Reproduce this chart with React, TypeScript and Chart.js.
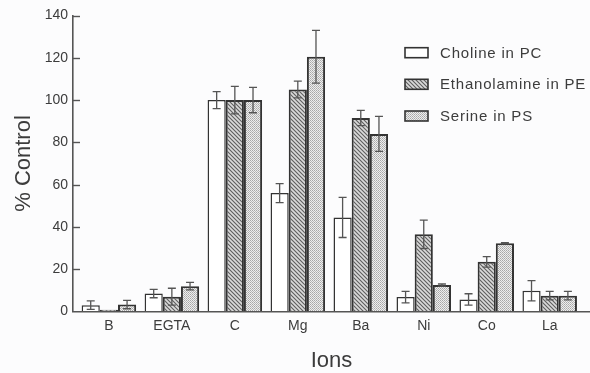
import React, { useEffect, useRef } from "react";
import { Chart, registerables } from "chart.js";

Chart.register(...registerables);

const categories = ["B", "EGTA", "C", "Mg", "Ba", "Ni", "Co", "La"];
const seriesNames = ["Choline in PC", "Ethanolamine in PE", "Serine in PS"];
const choline = [3, 8.5, 100, 56, 44.5, 6.8, 5.7, 9.8];
const cholineErr = [2, 2, 4, 4.5, 9.5, 2.7, 2.7, 4.8];
const ethanolamine = [0.8, 7, 100, 105, 91.5, 36.5, 23.5, 7.5];
const ethanolamineErr = [0, 4, 6.5, 4, 3.6, 6.7, 2.5, 2];
const serine = [3.3, 12, 100, 120.5, 84, 12.5, 32.3, 7.5];
const serineErr = [2, 1.8, 6, 12.5, 8.3, 0.5, 0.3, 2];
const yTicks = [0, 20, 40, 60, 80, 100, 120, 140];

const FONT = "'Liberation Sans', Arial, sans-serif";
const INK = "#3c3c3c";

function makeHatch(): CanvasPattern | string {
  const c = document.createElement("canvas");
  c.width = 4;
  c.height = 4;
  const g = c.getContext("2d");
  if (!g) return "#bbb";
  g.fillStyle = "#dadada";
  g.fillRect(0, 0, 4, 4);
  g.strokeStyle = "#5e5e5e";
  g.lineWidth = 1.1;
  g.beginPath();
  g.moveTo(-1, -1);
  g.lineTo(5, 5);
  g.moveTo(-1, 3);
  g.lineTo(1, 5);
  g.moveTo(3, -1);
  g.lineTo(5, 1);
  g.stroke();
  return g.createPattern(c, "repeat") || "#bbb";
}

function makeStipple(): CanvasPattern | string {
  const c = document.createElement("canvas");
  c.width = 2;
  c.height = 2;
  const g = c.getContext("2d");
  if (!g) return "#ccc";
  g.fillStyle = "#eeeeee";
  g.fillRect(0, 0, 2, 2);
  g.fillStyle = "#a8a8a8";
  g.fillRect(0, 0, 1, 1);
  g.fillStyle = "#bababa";
  g.fillRect(1, 1, 1, 1);
  return g.createPattern(c, "repeat") || "#ccc";
}

export default function App() {
  const ref = useRef<HTMLCanvasElement | null>(null);

  useEffect(() => {
    const canvas = ref.current;
    if (!canvas) return;
    const hatch = makeHatch();
    const stipple = makeStipple();
    const values = [choline, ethanolamine, serine];
    const errors = [cholineErr, ethanolamineErr, serineErr];
    const fills: any[] = ["#ffffff", hatch, stipple];
    const borders = [1.5, 2, 2];

    const bgPlugin = {
      id: "bg",
      beforeDraw(chart: any) {
        const ctx = chart.ctx;
        ctx.save();
        ctx.fillStyle = "#fcfcfd";
        ctx.fillRect(0, 0, chart.width, chart.height);
        ctx.restore();
      },
    };

    const errPlugin = {
      id: "errbars",
      afterDatasetsDraw(chart: any) {
        const ctx = chart.ctx;
        const ys = chart.scales.y;
        ctx.save();
        ctx.strokeStyle = "#555";
        ctx.lineWidth = 1.3;
        chart.data.datasets.forEach((ds: any, di: number) => {
          const meta = chart.getDatasetMeta(di);
          meta.data.forEach((bar: any, i: number) => {
            const e = errors[di][i];
            if (!e) return;
            const v = values[di][i];
            const top = ys.getPixelForValue(v + e);
            const bot = ys.getPixelForValue(Math.max(0, v - e));
            const x = bar.x;
            ctx.beginPath();
            ctx.moveTo(x, top);
            ctx.lineTo(x, bot);
            ctx.moveTo(x - 4, top);
            ctx.lineTo(x + 4, top);
            ctx.moveTo(x - 4, bot);
            ctx.lineTo(x + 4, bot);
            ctx.stroke();
          });
        });
        ctx.restore();
      },
    };

    const tickPlugin = {
      id: "inticks",
      afterDraw(chart: any) {
        const ctx = chart.ctx;
        const ys = chart.scales.y;
        const left = chart.chartArea.left;
        ctx.save();
        ctx.strokeStyle = "#555";
        ctx.lineWidth = 1.4;
        yTicks.forEach((t) => {
          if (t === 0) return;
          const y = Math.round(ys.getPixelForValue(t)) + 0.5;
          ctx.beginPath();
          ctx.moveTo(left, y);
          ctx.lineTo(left + 7, y);
          ctx.stroke();
        });
        ctx.restore();
      },
    };

    const legendPlugin = {
      id: "customLegend",
      afterDraw(chart: any) {
        const ctx = chart.ctx;
        ctx.save();
        const boxX = 405;
        const rows = [52.7, 84.3, 116];
        ctx.font = `15px ${FONT}`;
        (ctx as any).letterSpacing = "0.8px";
        ctx.textBaseline = "middle";
        ctx.textAlign = "left";
        seriesNames.forEach((name, i) => {
          const cy = rows[i];
          ctx.fillStyle = fills[i];
          ctx.fillRect(boxX, cy - 5, 23, 10);
          ctx.strokeStyle = "#333";
          ctx.lineWidth = 1.6;
          ctx.strokeRect(boxX, cy - 5, 23, 10);
          ctx.fillStyle = INK;
          ctx.fillText(name, 440, cy + 1);
        });
        ctx.restore();
      },
    };

    const chart = new Chart(canvas, {
      type: "bar",
      data: {
        datasets: seriesNames.map((name, di) => ({
          label: name,
          data: values[di].map((v, i) => ({ x: i, y: v })),
          backgroundColor: fills[di],
          borderColor: "#333",
          borderWidth: borders[di],
          borderSkipped: "bottom",
          categoryPercentage: 0.866,
          barPercentage: 1,
        })),
      },
      options: {
        responsive: false,
        animation: false,
        layout: { padding: { top: 15.5, right: 0, left: 0, bottom: 0 } },
        plugins: {
          legend: { display: false },
          tooltip: { enabled: false },
        },
        scales: {
          x: {
            type: "linear",
            min: -0.57,
            max: 7.64,
            offset: false,
            grid: { display: true, drawOnChartArea: false, drawTicks: false, offset: false },
            border: { display: true, color: "#555", width: 1.6 },
            afterBuildTicks: (s: any) => {
              s.ticks = categories.map((_, i) => ({ value: i }));
            },
            afterFit: (s: any) => {
              s.height = 61.5;
            },
            ticks: {
              autoSkip: false,
              maxRotation: 0,
              padding: 6,
              color: INK,
              font: { family: FONT, size: 14 },
              callback: (v: any) => categories[v] ?? "",
            },
            title: {
              display: true,
              text: "Ions",
              color: INK,
              font: { family: FONT, size: 22, lineHeight: 1 },
              padding: { top: 0, bottom: 1 },
            },
          },
          y: {
            min: 0,
            max: 140,
            grid: { display: true, drawOnChartArea: false, drawTicks: false },
            border: { display: true, color: "#555", width: 1.6 },
            afterBuildTicks: (s: any) => {
              s.ticks = yTicks.map((v) => ({ value: v }));
            },
            afterFit: (s: any) => {
              s.width = 73;
            },
            ticks: {
              padding: 5,
              color: INK,
              font: { family: FONT, size: 14 },
            },
            title: {
              display: true,
              text: "% Control",
              color: INK,
              font: { family: FONT, size: 22, lineHeight: 1 },
              padding: { top: 12.5, bottom: 0 },
            },
          },
        },
      } as any,
      plugins: [bgPlugin, errPlugin, tickPlugin, legendPlugin],
    });
    return () => chart.destroy();
  }, []);

  return (
    <div style={{ position: "absolute", left: 0, top: 0, width: 590, height: 373 }}>
      <canvas ref={ref} width={590} height={373} style={{ display: "block" }} />
    </div>
  );
}
